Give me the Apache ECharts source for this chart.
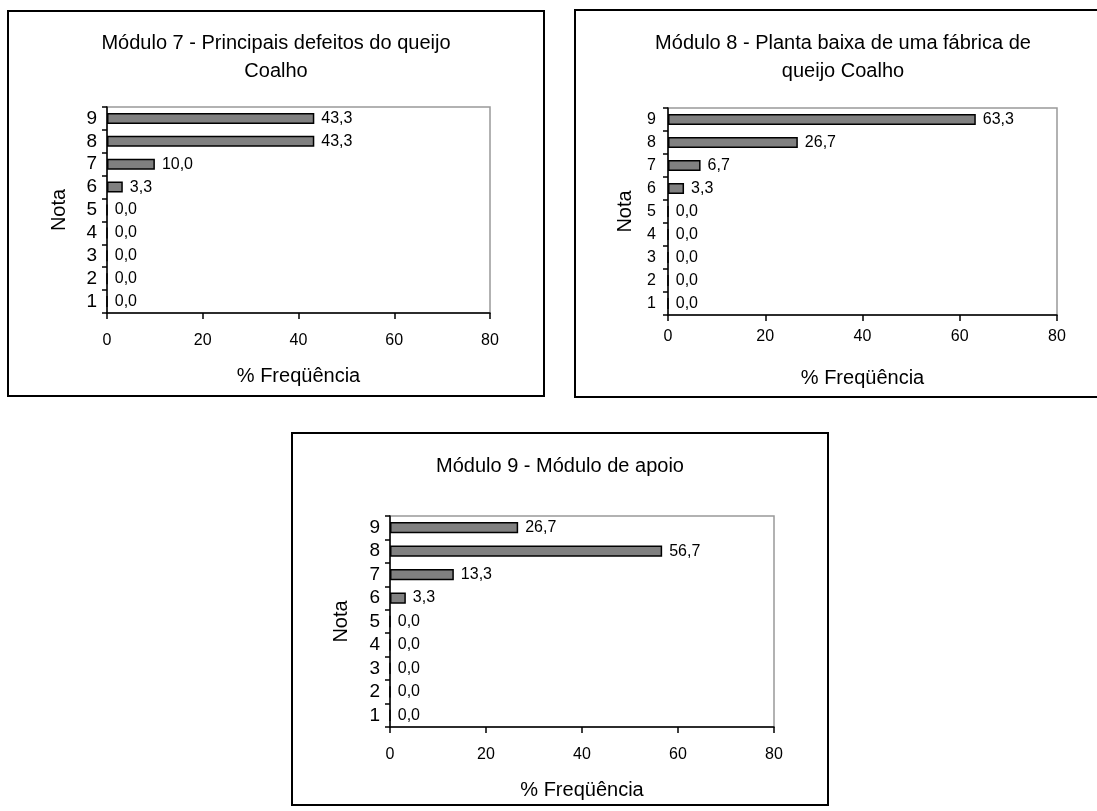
<!DOCTYPE html>
<html>
<head>
<meta charset="utf-8">
<script src="https://cdn.jsdelivr.net/npm/echarts@6/dist/echarts.min.js"></script>
<style>
  html, body { margin: 0; padding: 0; background: #fff; }
  #chart { width: 1097px; height: 811px; }
</style>
</head>
<body>
<div id="chart"></div>
<script>
// Notas (categories) and percentage frequencies per module
const notas = ['1', '2', '3', '4', '5', '6', '7', '8', '9'];
const modulo7 = [0.0, 0.0, 0.0, 0.0, 0.0, 3.3, 10.0, 43.3, 43.3];
const modulo8 = [0.0, 0.0, 0.0, 0.0, 0.0, 3.3, 6.7, 26.7, 63.3];
const modulo9 = [0.0, 0.0, 0.0, 0.0, 0.0, 3.3, 13.3, 56.7, 26.7];
const titulos = [
  'Módulo 7 - Principais defeitos do queijo\nCoalho',
  'Módulo 8 - Planta baixa de uma fábrica de\nqueijo Coalho',
  'Módulo 9 - Módulo de apoio'
];
const eixoX = '% Freqüência';
const eixoY = 'Nota';

const FONT = '"Liberation Sans", Arial, sans-serif';

// Layout of the three framed panels
const panels = [
  { box: [8, 11, 536, 385], grid: { left: 107, top: 107, width: 383, height: 206 },
    titleY: 29, yLabel: 19, yLabelMargin: 10, yNameGap: 38, xLabelMargin: 20, data: modulo7 },
  { box: [575, 10, 536, 387], grid: { left: 668, top: 108, width: 389, height: 207 },
    titleY: 29, yLabel: 16, yLabelMargin: 12, yNameGap: 33, xLabelMargin: 14, data: modulo8 },
  { box: [292, 433, 536, 372], grid: { left: 390, top: 516, width: 384, height: 211 },
    titleY: 452, yLabel: 19, yLabelMargin: 10, yNameGap: 39, xLabelMargin: 20, data: modulo9 }
];

const fmt = v => v.toFixed(1).replace('.', ',');

const chart = echarts.init(document.getElementById('chart'), null, { renderer: 'canvas' });

const option = {
  backgroundColor: '#fff',
  animation: false,
  textStyle: { fontFamily: FONT },
  grid: panels.map(p => Object.assign({
    show: true, borderColor: '#999', borderWidth: 1.5, backgroundColor: 'transparent',
    containLabel: false
  }, p.grid)),
  xAxis: panels.map((p, i) => ({
    type: 'value', gridIndex: i, min: 0, max: 80, interval: 20,
    name: eixoX, nameLocation: 'middle', nameGap: 53,
    nameTextStyle: { fontSize: 20, color: '#000', fontFamily: FONT },
    axisLine: { show: true, lineStyle: { color: '#000', width: 1.5 } },
    axisTick: { show: true, inside: false, length: 6, lineStyle: { color: '#000', width: 1.5 } },
    axisLabel: { fontSize: 16, color: '#000', margin: p.xLabelMargin, fontFamily: FONT },
    splitLine: { show: false }
  })),
  yAxis: panels.map((p, i) => ({
    type: 'category', gridIndex: i, data: notas,
    name: eixoY, nameLocation: 'middle', nameGap: p.yNameGap, nameRotate: 90,
    nameTextStyle: { fontSize: 20, color: '#000', fontFamily: FONT },
    axisLine: { show: true, lineStyle: { color: '#000', width: 1.5 } },
    axisTick: { show: true, inside: false, length: 5, interval: 0, lineStyle: { color: '#000', width: 1.5 } },
    axisLabel: {
      fontSize: p.yLabel, color: '#000', margin: p.yLabelMargin, fontFamily: FONT,
      interval: 0, hideOverlap: false, lineHeight: p.yLabel
    },
    splitLine: { show: false }
  })),
  series: panels.map((p, i) => ({
    type: 'bar', xAxisIndex: i, yAxisIndex: i, data: p.data,
    barWidth: '48%',
    itemStyle: { color: '#808080', borderColor: '#000', borderWidth: 1.5 },
    label: {
      show: true, position: 'right', distance: 7, color: '#000', fontSize: 16,
      fontFamily: FONT, formatter: d => fmt(d.value)
    }
  })),
  graphic: [].concat(
    panels.map(p => ({
      type: 'rect', silent: true,
      shape: { x: p.box[0], y: p.box[1], width: p.box[2], height: p.box[3] },
      style: { fill: 'transparent', stroke: '#000', lineWidth: 2 }
    })),
    panels.map((p, i) => ({
      type: 'text', silent: true,
      x: p.box[0] + p.box[2] / 2, y: p.titleY,
      style: {
        text: titulos[i], align: 'center', verticalAlign: 'top',
        font: '20px ' + FONT, fill: '#000', lineHeight: 28
      }
    }))
  )
};

chart.setOption(option);
</script>
</body>
</html>
